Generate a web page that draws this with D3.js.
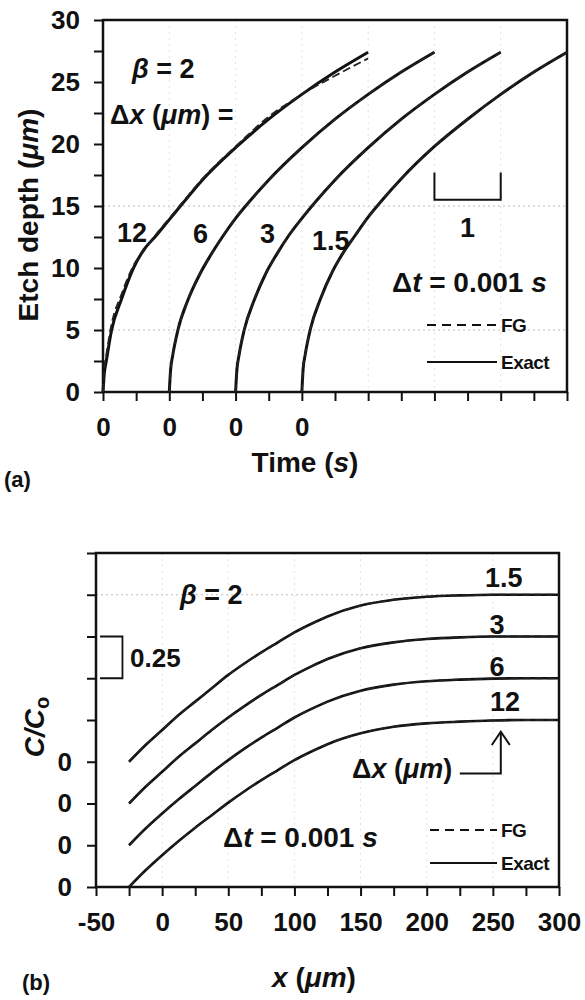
<!DOCTYPE html>
<html>
<head>
<meta charset="utf-8">
<script src="https://cdn.jsdelivr.net/npm/d3@7"></script>
<style>
  body { margin: 0; background: #fff; }
  svg text { font-family: "Liberation Sans", Arial, sans-serif; font-weight: bold; fill: #111; }
</style>
</head>
<body>
<div id="chart"></div>
<script>
// ---- (a) etch depth vs time, one curve per grid size, each shifted 1 s ----
const dxLabels = ['12', '6', '3', '1.5'];
const startTimes = [0, 1, 2, 3];
const etchTime = [0, 0.02, 0.05, 0.13, 0.28, 0.46, 0.62, 0.8, 1.0, 1.2, 1.5, 2.0, 2.5, 3.0, 3.5, 4.0];
const exact12 = [0, 1.5, 2.5, 5.0, 7.5, 10.0, 11.5, 12.6, 13.9, 15.2, 17.1, 19.7, 22.0, 24.0, 25.8, 27.4];
const fg12    = [0, 1.9, 3.0, 5.5, 7.9, 10.2, 11.4, 12.7, 14.0, 15.3, 17.2, 19.8, 22.2, 24.0, 25.5, 26.9];
const exact6  = [0, 1.8, 2.9, 5.0, 7.4, 9.5, 11.0, 12.5, 14.0, 15.3, 17.1, 19.7, 22.0, 24.0, 25.8, 27.4];
const fg6     = [0, 1.8, 2.9, 5.0, 7.4, 9.5, 11.0, 12.5, 14.0, 15.3, 17.1, 19.7, 22.0, 24.0, 25.8, 27.4];
const exact3  = [0, 1.8, 2.9, 5.0, 7.4, 9.6, 11.1, 12.6, 14.0, 15.3, 17.1, 19.7, 22.0, 24.0, 25.8, 27.4];
const fg3     = [0, 1.8, 2.9, 5.0, 7.4, 9.6, 11.1, 12.6, 14.0, 15.3, 17.1, 19.7, 22.0, 24.0, 25.8, 27.4];
const exact15 = [0, 1.9, 3.0, 5.1, 7.5, 9.7, 11.2, 12.6, 14.1, 15.4, 17.2, 19.8, 22.0, 24.0, 25.8, 27.4];
const fg15    = [0, 1.9, 3.0, 5.1, 7.5, 9.7, 11.2, 12.6, 14.1, 15.4, 17.2, 19.8, 22.0, 24.0, 25.8, 27.4];
const depthTicks = [0, 2.5, 5, 7.5, 10, 12.5, 15, 17.5, 20, 22.5, 25, 27.5, 30];
const timeTicks = [0, 0.5, 1, 1.5, 2, 2.5, 3, 3.5, 4, 4.5, 5, 5.5, 6, 6.5, 7];

// ---- (b) C/Co vs x, one profile per grid size, each shifted 0.25 ----
const concOffsets = [0, 0.25, 0.5, 0.75];
const profileX = [-25, -12.5, 0, 12.5, 25, 37.5, 50, 62.5, 75, 87.5, 100, 112.5, 125, 150, 175, 200, 225, 250, 275, 300];
const concExact12 = [0, 0.10, 0.19, 0.275, 0.355, 0.43, 0.505, 0.575, 0.64, 0.70, 0.76, 0.81, 0.855, 0.92, 0.96, 0.98, 0.99, 0.997, 1, 1];
const concFG12    = [0, 0.10, 0.19, 0.275, 0.355, 0.43, 0.505, 0.575, 0.64, 0.70, 0.76, 0.81, 0.855, 0.92, 0.96, 0.98, 0.99, 0.997, 1, 1];
const concExact6  = [0, 0.10, 0.19, 0.275, 0.355, 0.435, 0.51, 0.58, 0.645, 0.705, 0.765, 0.815, 0.86, 0.925, 0.962, 0.982, 0.992, 0.998, 1, 1];
const concFG6     = [0, 0.10, 0.19, 0.275, 0.355, 0.435, 0.51, 0.58, 0.645, 0.705, 0.765, 0.815, 0.86, 0.925, 0.962, 0.982, 0.992, 0.998, 1, 1];
const concExact3  = [0, 0.10, 0.19, 0.28, 0.36, 0.44, 0.515, 0.585, 0.65, 0.71, 0.77, 0.82, 0.865, 0.93, 0.965, 0.985, 0.995, 1, 1, 1];
const concFG3     = [0, 0.10, 0.19, 0.28, 0.36, 0.44, 0.515, 0.585, 0.65, 0.71, 0.77, 0.82, 0.865, 0.93, 0.965, 0.985, 0.995, 1, 1, 1];
const concExact15 = [0, 0.10, 0.19, 0.28, 0.36, 0.44, 0.52, 0.59, 0.655, 0.715, 0.775, 0.825, 0.87, 0.935, 0.97, 0.988, 0.996, 1, 1, 1];
const concFG15    = [0, 0.10, 0.19, 0.28, 0.36, 0.44, 0.52, 0.59, 0.655, 0.715, 0.775, 0.825, 0.87, 0.935, 0.97, 0.988, 0.996, 1, 1, 1];
const concTicks = [0, 0.25, 0.5, 0.75, 1, 1.25, 1.5, 1.75, 2];
const posTicks = [-50, -25, 0, 25, 50, 75, 100, 125, 150, 175, 200, 225, 250, 275, 300];

const svg = d3.select('#chart')
              .append('svg')
              .attr('width', 585)
              .attr('height', 1000);

const FONT = '"Liberation Sans", Arial, sans-serif';

function styleAxis(g) {
  g.attr('font-family', FONT).attr('font-size', 26).attr('font-weight', 'bold');
  g.select('.domain').remove();
  g.selectAll('line').attr('stroke', '#111').attr('stroke-width', 2);
  g.selectAll('text').attr('fill', '#111');
}

// rich text: parts = [[string, italic?], ...]
function label(g, x, y, parts, size, anchor) {
  const t = g.append('text')
             .attr('x', x)
             .attr('y', y)
             .attr('font-size', size)
             .attr('text-anchor', anchor || 'start');
  parts.forEach(p => {
    t.append('tspan')
     .attr('font-style', p[1] ? 'italic' : 'normal')
     .text(p[0]);
  });
  return t;
}

function legend(g, x0, x1, yFG, yEx) {
  g.append('line').attr('x1', x0).attr('x2', x1).attr('y1', yFG).attr('y2', yFG)
   .attr('stroke', '#111').attr('stroke-width', 2).attr('stroke-dasharray', '9,6');
  g.append('line').attr('x1', x0).attr('x2', x1).attr('y1', yEx).attr('y2', yEx)
   .attr('stroke', '#111').attr('stroke-width', 2);
  g.append('text').attr('x', x1 + 4).attr('y', yFG + 7).attr('font-size', 19)
   .attr('font-weight', 'normal').attr('letter-spacing', -0.5).text('FG');
  g.append('text').attr('x', x1 + 4).attr('y', yEx + 7).attr('font-size', 19)
   .attr('font-weight', 'normal').attr('letter-spacing', -0.5).text('Exact');
}

// ================= panel (a) =================
const xA = d3.scaleLinear().domain([0, 7]).range([103, 567]);
const yA = d3.scaleLinear().domain([0, 30]).range([392, 20]);
const gA = svg.append('g');

// faint dotted grid
gA.append('g').selectAll('line')
  .data([5, 15])
  .join('line')
  .attr('x1', xA(0)).attr('x2', xA(7))
  .attr('y1', d => yA(d)).attr('y2', d => yA(d))
  .attr('stroke', '#bbb').attr('stroke-width', 1).attr('stroke-dasharray', '2,3');
gA.append('g').selectAll('line')
  .data([1, 2, 3, 4, 5, 6])
  .join('line')
  .attr('x1', d => xA(d)).attr('x2', d => xA(d))
  .attr('y1', yA(30)).attr('y2', yA(0))
  .attr('stroke', '#e2e2e2').attr('stroke-width', 1).attr('stroke-dasharray', '2,4');

gA.append('g')
  .attr('transform', `translate(${xA(0)},0)`)
  .call(d3.axisLeft(yA).tickValues(depthTicks).tickSize(9).tickPadding(14)
          .tickFormat(d => d % 5 === 0 ? d : ''))
  .call(styleAxis);

gA.append('g')
  .attr('transform', `translate(0,${yA(0)})`)
  .call(d3.axisBottom(xA).tickValues(timeTicks).tickSize(9).tickPadding(17)
          .tickFormat(d => startTimes.includes(d) ? '0' : ''))
  .call(styleAxis);

gA.append('rect')
  .attr('x', xA(0)).attr('y', yA(30))
  .attr('width', xA(7) - xA(0)).attr('height', yA(0) - yA(30))
  .attr('fill', 'none').attr('stroke', '#111').attr('stroke-width', 2.5);

const etchExact = [exact12, exact6, exact3, exact15];
const etchFG = [fg12, fg6, fg3, fg15];
const etchSeries = dxLabels.map((lab, i) => ({
  label: lab,
  start: startTimes[i],
  exact: etchTime.map((t, j) => [t, etchExact[i][j]]),
  fg: etchTime.map((t, j) => [t, etchFG[i][j]])
}));

etchSeries.forEach(s => {
  const line = d3.line()
                 .x(d => xA(d[0] + s.start))
                 .y(d => yA(d[1]))
                 .curve(d3.curveMonotoneX);
  gA.append('path').attr('d', line(s.exact))
    .attr('fill', 'none').attr('stroke', '#111').attr('stroke-width', 3);
  gA.append('path').attr('d', line(s.fg))
    .attr('fill', 'none').attr('stroke', '#222').attr('stroke-width', 1.8)
    .attr('stroke-dasharray', '8,4');
});

label(gA, 132, 78, [['β', true], [' = 2', false]], 27);
label(gA, 110, 124, [['Δ', false], ['x', true], [' (', false], ['μm', true], [') =', false]], 27);
label(gA, 117, 242, [['12', false]], 27);
label(gA, 193, 243, [['6', false]], 27);
label(gA, 260, 243, [['3', false]], 27);
label(gA, 312, 250, [['1.5', false]], 27);

// 1 s scale bracket
gA.append('path')
  .attr('d', `M${xA(5)},${yA(17.7)}V${yA(15.5)}H${xA(6)}V${yA(17.7)}`)
  .attr('fill', 'none').attr('stroke', '#111').attr('stroke-width', 2);
label(gA, (xA(5) + xA(6)) / 2, 237, [['1', false]], 27, 'middle');

label(gA, 392, 292, [['Δ', false], ['t', true], [' = 0.001 ', false], ['s', true]], 28);
legend(gA, 427, 497, 325, 362);

label(gA, 305, 472, [['Time (', false], ['s', true], [')', false]], 28, 'middle');
label(gA, 0, 0, [['Etch depth (', false], ['μm', true], [')', false]], 28, 'middle')
  .attr('transform', 'translate(38,215) rotate(-90)');
svg.append('text').attr('x', 4).attr('y', 487)
   .attr('font-family', '"Liberation Serif", "Times New Roman", serif')
   .attr('font-size', 22).text('(a)');

// ================= panel (b) =================
const xB = d3.scaleLinear().domain([-50, 300]).range([96, 559]);
const yB = d3.scaleLinear().domain([0, 2]).range([887, 553]);
const gB = svg.append('g');

gB.append('line')
  .attr('x1', xB(-50)).attr('x2', xB(300))
  .attr('y1', yB(1.75)).attr('y2', yB(1.75))
  .attr('stroke', '#bbb').attr('stroke-width', 1).attr('stroke-dasharray', '2,3');
gB.append('g').selectAll('line')
  .data([0, 50, 100, 150, 200, 250])
  .join('line')
  .attr('x1', d => xB(d)).attr('x2', d => xB(d))
  .attr('y1', yB(2)).attr('y2', yB(0))
  .attr('stroke', '#e2e2e2').attr('stroke-width', 1).attr('stroke-dasharray', '2,4');

gB.append('g')
  .attr('transform', `translate(${xB(-50)},0)`)
  .call(d3.axisLeft(yB).tickValues(concTicks).tickSize(9).tickPadding(15)
          .tickFormat(d => concOffsets.includes(d) ? '0' : ''))
  .call(styleAxis);

gB.append('g')
  .attr('transform', `translate(0,${yB(0)})`)
  .call(d3.axisBottom(xB).tickValues(posTicks).tickSize(9).tickPadding(17)
          .tickFormat(d => d % 50 === 0 ? d : ''))
  .call(styleAxis);

gB.append('rect')
  .attr('x', xB(-50)).attr('y', yB(2))
  .attr('width', xB(300) - xB(-50)).attr('height', yB(0) - yB(2))
  .attr('fill', 'none').attr('stroke', '#111').attr('stroke-width', 2.5);

const concExact = [concExact12, concExact6, concExact3, concExact15];
const concFG = [concFG12, concFG6, concFG3, concFG15];
dxLabels.forEach((lab, i) => {
  const off = concOffsets[i];
  const line = d3.line()
                 .x(d => xB(d[0]))
                 .y(d => yB(d[1] + off))
                 .curve(d3.curveMonotoneX);
  gB.append('path').attr('d', line(profileX.map((x, j) => [x, concExact[i][j]])))
    .attr('fill', 'none').attr('stroke', '#111').attr('stroke-width', 2.6);
  gB.append('path').attr('d', line(profileX.map((x, j) => [x, concFG[i][j]])))
    .attr('fill', 'none').attr('stroke', '#222').attr('stroke-width', 1.8)
    .attr('stroke-dasharray', '8,4');
});

label(gB, 180, 604, [['β', true], [' = 2', false]], 27);

// 0.25 scale bracket
gB.append('path')
  .attr('d', `M${xB(-50) + 4},${yB(1.5)}H${xB(-30)}V${yB(1.25)}H${xB(-50) + 4}`)
  .attr('fill', 'none').attr('stroke', '#111').attr('stroke-width', 1.8);
label(gB, 130, 667, [['0.25', false]], 26);

label(gB, 485, 587, [['1.5', false]], 27);
label(gB, 497, 634, [['3', false]], 27, 'middle');
label(gB, 497, 676, [['6', false]], 27, 'middle');
label(gB, 490, 711, [['12', false]], 27);

// arrow pointing at the Δx = 12 profile
const ax = xB(256);
gB.append('path')
  .attr('d', `M${xB(225)},${yB(0.68)}H${ax}V${yB(0.93)}`)
  .attr('fill', 'none').attr('stroke', '#111').attr('stroke-width', 2);
gB.append('path')
  .attr('d', `M${ax - 9},${yB(0.85)}L${ax},${yB(0.93)}L${ax + 9},${yB(0.85)}`)
  .attr('fill', 'none').attr('stroke', '#111').attr('stroke-width', 2);
label(gB, 352, 778, [['Δ', false], ['x', true], [' (', false], ['μm', true], [')', false]], 27);

label(gB, 223, 847, [['Δ', false], ['t', true], [' = 0.001 ', false], ['s', true]], 28);
legend(gB, 430, 497, 830, 863);

label(gB, 314, 987, [['x', true], [' (', false], ['μm', true], [')', false]], 28, 'middle');
const cLab = gB.append('text')
               .attr('font-size', 28)
               .attr('text-anchor', 'middle')
               .attr('transform', 'translate(44,727) rotate(-90)');
cLab.append('tspan').attr('font-style', 'italic').text('C/C');
cLab.append('tspan').attr('font-size', 20).attr('dy', 5).text('o');
svg.append('text').attr('x', 22).attr('y', 990)
   .attr('font-family', '"Liberation Serif", "Times New Roman", serif')
   .attr('font-size', 22).text('(b)');
</script>
</body>
</html>
